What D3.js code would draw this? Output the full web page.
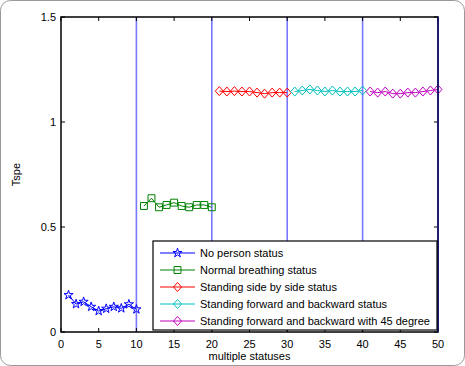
<!DOCTYPE html>
<html>
<head>
<meta charset="utf-8">
<script src="https://cdn.jsdelivr.net/npm/d3@7"></script>
<style>
  body { margin: 0; background: #fff; }
  svg { font-family: "Liberation Sans", Arial, sans-serif; }
</style>
</head>
<body>
<svg id="chart" width="465" height="366"></svg>
<script>
// values
const noPerson = [0.176, 0.133, 0.144, 0.12, 0.10, 0.111, 0.12, 0.113, 0.132, 0.108];
const breathing = [0.60, 0.637, 0.594, 0.605, 0.616, 0.60, 0.594, 0.605, 0.605, 0.594];
const sideBySide = [1.147, 1.145, 1.147, 1.145, 1.145, 1.14, 1.135, 1.14, 1.14, 1.14];
const forwardBack = [1.145, 1.15, 1.155, 1.15, 1.145, 1.15, 1.145, 1.145, 1.145, 1.15];
const forward45 = [1.145, 1.14, 1.145, 1.135, 1.135, 1.14, 1.14, 1.145, 1.15, 1.155];

const seriesNames = [
  "No person status",
  "Normal breathing status",
  "Standing side by side status",
  "Standing forward and backward status",
  "Standing forward and backward with 45 degree"
];
const seriesColors = ["#0000ff", "#008000", "#ff0000", "#00bfbf", "#bf00bf"];
const seriesMarkers = ["star", "square", "diamond", "diamond", "diamond"];
const dividers = [10, 20, 30, 40, 50];
const xTicks = [0, 5, 10, 15, 20, 25, 30, 35, 40, 45, 50];
const yTicks = [0, 0.5, 1, 1.5];

const svg = d3.select("#chart");
const margin = { left: 61, right: 27, top: 17, bottom: 34 };
const W = 465, H = 366;

const x = d3.scaleLinear().domain([0, 50]).range([margin.left, W - margin.right]);
const y = d3.scaleLinear().domain([0, 1.5]).range([H - margin.bottom, margin.top]);

// rounded outer frame
svg.append("rect")
  .attr("x", 0.5).attr("y", 0.5)
  .attr("width", W - 1).attr("height", H - 1)
  .attr("rx", 10)
  .attr("fill", "#fff").attr("stroke", "#999");

// dividers
svg.selectAll(".divider")
  .data(dividers)
  .join("line")
  .attr("x1", d => x(d)).attr("x2", d => x(d))
  .attr("y1", y(1.5)).attr("y2", y(0))
  .attr("stroke", "#7878ff")
  .attr("stroke-width", 1.6);

const allSeries = [noPerson, breathing, sideBySide, forwardBack, forward45].map((vals, i) => ({
  name: seriesNames[i],
  color: seriesColors[i],
  marker: seriesMarkers[i],
  points: vals.map((v, j) => ({ x: i * 10 + j + 1, y: v }))
}));

const starPath = d3.symbol(d3.symbolStar, 26)();
const squarePath = d3.symbol(d3.symbolSquare, 48)();
function markerPath(kind) {
  if (kind === "star") return starPath;
  if (kind === "square") return squarePath;
  return "M0,-4.5L4,0L0,4.5L-4,0Z";
}

const line = d3.line().x(d => x(d.x)).y(d => y(d.y));

const g = svg.append("g");
allSeries.forEach(s => {
  g.append("path")
    .attr("d", line(s.points))
    .attr("fill", "none")
    .attr("stroke", s.color)
    .attr("stroke-width", 1);
  g.selectAll(null)
    .data(s.points)
    .join("path")
    .attr("transform", d => `translate(${x(d.x)},${y(d.y)})`)
    .attr("d", markerPath(s.marker))
    .attr("fill", "none")
    .attr("stroke", s.color)
    .attr("stroke-width", 1);
});

// box axes with inward ticks
const tk = 4;
const frame = svg.append("g").attr("stroke", "#000");
frame.append("rect")
  .attr("x", x(0)).attr("y", y(1.5))
  .attr("width", x(50) - x(0)).attr("height", y(0) - y(1.5))
  .attr("fill", "none").attr("stroke-width", 1.5);

xTicks.forEach(t => {
  frame.append("line").attr("x1", x(t)).attr("x2", x(t)).attr("y1", y(0)).attr("y2", y(0) - tk);
  frame.append("line").attr("x1", x(t)).attr("x2", x(t)).attr("y1", y(1.5)).attr("y2", y(1.5) + tk);
});
yTicks.forEach(t => {
  frame.append("line").attr("x1", x(0)).attr("x2", x(0) + tk).attr("y1", y(t)).attr("y2", y(t));
  frame.append("line").attr("x1", x(50)).attr("x2", x(50) - tk).attr("y1", y(t)).attr("y2", y(t));
});

// right edge shows the last divider drawn over the axis
svg.append("line")
  .attr("x1", x(50)).attr("x2", x(50))
  .attr("y1", y(1.5)).attr("y2", y(0))
  .attr("stroke", "#1a1a80").attr("stroke-width", 1.5);

svg.append("g").selectAll("text")
  .data(xTicks)
  .join("text")
  .attr("x", d => x(d)).attr("y", y(0) + 16)
  .attr("text-anchor", "middle")
  .attr("font-size", 11)
  .text(d => d);

svg.append("g").selectAll("text")
  .data(yTicks)
  .join("text")
  .attr("x", x(0) - 5).attr("y", d => y(d) + 4)
  .attr("text-anchor", "end")
  .attr("font-size", 11)
  .text(d => d);

svg.append("text")
  .attr("x", (x(0) + x(50)) / 2).attr("y", 360)
  .attr("text-anchor", "middle")
  .attr("font-size", 11)
  .text("multiple statuses");

svg.append("text")
  .attr("transform", `translate(20,${(y(0) + y(1.5)) / 2}) rotate(-90)`)
  .attr("text-anchor", "middle")
  .attr("font-size", 11)
  .text("Tspe");

// legend
const lg = svg.append("g").attr("transform", "translate(153,241)");
lg.append("rect")
  .attr("width", 284).attr("height", 89)
  .attr("fill", "#fff").attr("stroke", "#000").attr("stroke-width", 1.2);
const rows = lg.selectAll("g.row")
  .data(allSeries)
  .join("g")
  .attr("transform", (d, i) => `translate(0,${12 + i * 17})`);
rows.append("line")
  .attr("x1", 7).attr("x2", 42)
  .attr("stroke", d => d.color);
rows.append("path")
  .attr("transform", "translate(24.5,0)")
  .attr("d", d => markerPath(d.marker))
  .attr("fill", "none")
  .attr("stroke", d => d.color);
rows.append("text")
  .attr("x", 47).attr("y", 4)
  .attr("font-size", 11)
  .text(d => d.name);
</script>
</body>
</html>
